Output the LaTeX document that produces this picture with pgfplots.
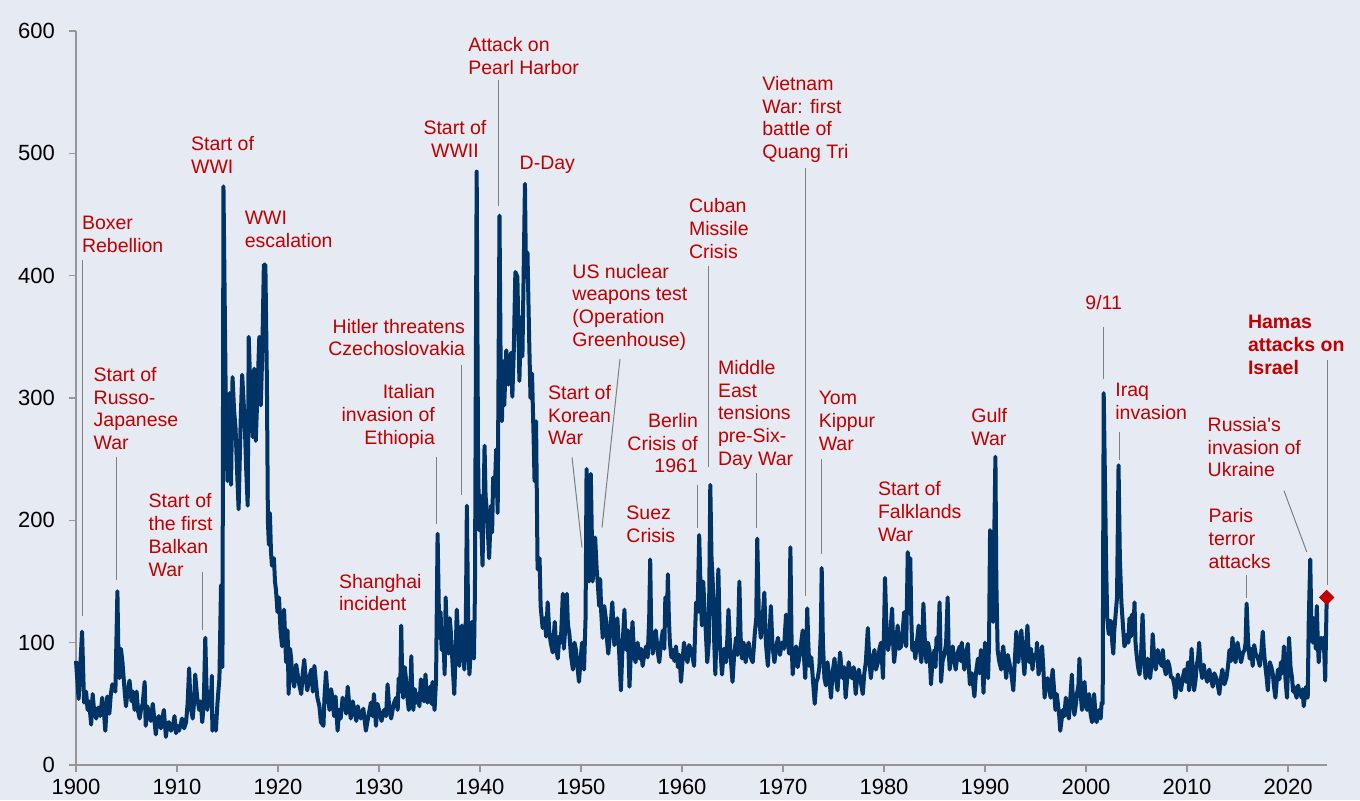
\documentclass[border=0pt]{standalone}
\usepackage{fontspec}
\setmainfont{Liberation Sans}[Ligatures=TeXOff]
\usepackage{pgfplots}
\pgfplotsset{compat=1.18}
\definecolor{bg}{RGB}{230,234,243}
\definecolor{navy}{RGB}{0,51,102}
\definecolor{ann}{RGB}{192,0,0}
\definecolor{axgray}{RGB}{150,150,150}
\newcommand\annfont{\fontsize{9.75}{11.35}\selectfont}
\tikzset{leader/.style={draw=gray, line width=0.5pt},
  annL/.style={anchor=north west, inner sep=0pt, align=left, text=ann, font=\annfont},
  annR/.style={anchor=north east, inner sep=0pt, align=right, text=ann, font=\annfont},
  annC/.style={anchor=north, inner sep=0pt, align=center, text=ann, font=\annfont}}
\begin{document}
\begin{tikzpicture}
\fill[bg] (-38pt,-17.5pt) rectangle (642pt,382.5pt);
\begin{axis}[
  at={(0pt,0pt)}, anchor=south west, scale only axis,
  width=625.5pt, height=367pt,
  xmin=1900, xmax=2023.86, ymin=0, ymax=600,
  axis x line*=bottom, axis y line*=left,
  axis line style={-, draw=axgray, line width=0.6pt},
  xtick={1900,1910,...,2020}, ytick={0,100,...,600},
  tick align=outside, major tick length=3.5pt,
  tick style={draw=axgray, line width=0.6pt},
  ticklabel style={font=\fontsize{11}{13}\selectfont, /pgf/number format/assume math mode=true},
  xticklabel style={/pgf/number format/1000 sep={}},
  yticklabel style={xshift=-3.5pt},
  clip=false,
]
\addplot[navy, line width=2pt, line join=round] coordinates {
(1900.0,85) (1900.26,54) (1900.6,109) (1900.8,51) (1901.0,60) (1901.15,45) (1901.3,52) (1901.5,33) (1901.65,58) (1901.8,44) (1902.0,38) (1902.2,47) (1902.4,40) (1902.6,55) (1902.75,45) (1902.9,28) (1903.1,56) (1903.3,42) (1903.45,58) (1903.6,66) (1903.9,60) (1904.1,142) (1904.2,90) (1904.3,71) (1904.45,95) (1904.6,84) (1904.8,62) (1904.95,48) (1905.1,60) (1905.3,69) (1905.5,52) (1905.65,60) (1905.8,45) (1906.0,60) (1906.15,44) (1906.3,38) (1906.45,46) (1906.6,50) (1906.8,68) (1906.9,32) (1907.05,48) (1907.2,44) (1907.4,36) (1907.6,50) (1907.75,38) (1907.9,25) (1908.05,36) (1908.2,40) (1908.4,30) (1908.55,38) (1908.7,45) (1908.9,23) (1909.05,34) (1909.2,35) (1909.4,28) (1909.6,32) (1909.75,40) (1909.9,26) (1910.05,32) (1910.2,28) (1910.35,33) (1910.5,38) (1910.7,30) (1910.9,35) (1911.05,50) (1911.2,79) (1911.35,48) (1911.55,38) (1911.7,52) (1911.8,74) (1912.0,55) (1912.2,45) (1912.35,52) (1912.5,35) (1912.65,50) (1912.8,104) (1912.9,70) (1913.0,45) (1913.2,60) (1913.35,48) (1913.45,73) (1913.5,28) (1913.7,40) (1913.85,28) (1914.0,50) (1914.2,71) (1914.36,147) (1914.5,80) (1914.6,473) (1914.85,281) (1915.0,232) (1915.2,304) (1915.35,229) (1915.5,317) (1915.65,290) (1915.8,275) (1915.95,240) (1916.1,209) (1916.3,280) (1916.45,319) (1916.7,281) (1916.85,242) (1917.0,212) (1917.1,350) (1917.3,297) (1917.5,268) (1917.65,324) (1917.8,265) (1917.95,301) (1918.15,350) (1918.3,294) (1918.45,340) (1918.6,409) (1918.75,409) (1918.9,314) (1919.0,199) (1919.1,180) (1919.2,206) (1919.3,175) (1919.4,163) (1919.6,169) (1919.7,150) (1919.8,143) (1919.95,125) (1920.1,137) (1920.25,110) (1920.4,97) (1920.5,115) (1920.6,127) (1920.8,84) (1920.95,110) (1921.05,58) (1921.2,95) (1921.3,87) (1921.45,70) (1921.6,64) (1921.8,82) (1921.95,74) (1922.1,66) (1922.3,58) (1922.45,75) (1922.6,86) (1922.75,70) (1922.9,61) (1923.1,72) (1923.3,78) (1923.45,60) (1923.6,81) (1923.75,68) (1923.9,55) (1924.1,48) (1924.25,35) (1924.5,32) (1924.6,55) (1924.75,76) (1924.9,58) (1925.1,45) (1925.25,62) (1925.4,55) (1925.55,40) (1925.7,56) (1925.9,28) (1926.05,45) (1926.2,38) (1926.4,55) (1926.6,51) (1926.75,42) (1926.9,64) (1927.05,50) (1927.2,38) (1927.4,52) (1927.55,45) (1927.75,36) (1927.9,48) (1928.05,42) (1928.2,38) (1928.45,46) (1928.7,28) (1928.95,40) (1929.2,51) (1929.35,40) (1929.5,58) (1929.7,32) (1929.85,50) (1930.0,45) (1930.25,36) (1930.5,45) (1930.7,40) (1930.85,66) (1931.0,48) (1931.2,38) (1931.45,50) (1931.7,55) (1931.85,45) (1931.95,71) (1932.1,60) (1932.2,114) (1932.3,70) (1932.4,55) (1932.55,80) (1932.7,68) (1932.85,52) (1932.95,45) (1933.1,60) (1933.2,89) (1933.3,55) (1933.4,45) (1933.55,62) (1933.7,51) (1933.85,58) (1934.0,48) (1934.15,70) (1934.3,64) (1934.45,52) (1934.6,74) (1934.7,60) (1934.8,51) (1934.95,58) (1935.05,64) (1935.2,50) (1935.3,68) (1935.4,55) (1935.5,45) (1935.65,70) (1935.8,189) (1935.97,104) (1936.1,125) (1936.2,94) (1936.35,110) (1936.5,74) (1936.6,137) (1936.75,100) (1936.9,91) (1937.0,120) (1937.1,110) (1937.3,80) (1937.45,58) (1937.6,95) (1937.7,127) (1937.85,100) (1937.95,81) (1938.1,100) (1938.2,114) (1938.35,95) (1938.45,78) (1938.6,120) (1938.7,212) (1938.85,100) (1938.95,74) (1939.1,95) (1939.2,117) (1939.3,100) (1939.4,87) (1939.5,143) (1939.67,485) (1939.8,260) (1939.9,192) (1940.05,220) (1940.25,163) (1940.45,261) (1940.55,220) (1940.7,206) (1940.9,169) (1941.0,190) (1941.1,212) (1941.2,190) (1941.3,235) (1941.45,220) (1941.6,258) (1941.75,206) (1941.93,449) (1942.05,320) (1942.17,281) (1942.3,330) (1942.4,294) (1942.6,339) (1942.8,311) (1943.07,337) (1943.2,301) (1943.35,340) (1943.5,403) (1943.7,399) (1943.9,314) (1944.05,366) (1944.2,334) (1944.45,475) (1944.55,400) (1944.7,419) (1944.88,343) (1945.0,300) (1945.15,320) (1945.3,270) (1945.4,232) (1945.55,281) (1945.7,160) (1945.9,169) (1946.0,130) (1946.2,112) (1946.4,120) (1946.55,105) (1946.7,133) (1946.85,110) (1947.0,100) (1947.2,92) (1947.4,117) (1947.55,95) (1947.7,87) (1947.85,105) (1948.0,100) (1948.2,140) (1948.3,95) (1948.4,107) (1948.6,140) (1948.7,115) (1948.85,107) (1949.0,90) (1949.2,78) (1949.35,100) (1949.5,94) (1949.65,80) (1949.8,68) (1949.95,85) (1950.1,100) (1950.3,78) (1950.45,120) (1950.55,242) (1950.65,180) (1950.8,150) (1950.97,238) (1951.15,150) (1951.3,170) (1951.4,186) (1951.55,160) (1951.65,150) (1951.8,130) (1951.9,152) (1952.0,125) (1952.15,104) (1952.3,130) (1952.5,117) (1952.6,100) (1952.7,91) (1952.9,110) (1953.1,133) (1953.3,98) (1953.5,104) (1953.6,120) (1953.75,97) (1953.95,61) (1954.1,95) (1954.3,127) (1954.4,100) (1954.5,94) (1954.65,110) (1954.8,64) (1954.95,95) (1955.1,117) (1955.25,90) (1955.4,84) (1955.6,100) (1955.8,87) (1955.95,95) (1956.1,81) (1956.3,92) (1956.45,97) (1956.6,88) (1956.75,120) (1956.85,168) (1956.95,110) (1957.1,91) (1957.25,100) (1957.4,110) (1957.6,92) (1957.75,84) (1957.9,98) (1958.1,110) (1958.25,95) (1958.35,137) (1958.5,115) (1958.6,156) (1958.7,120) (1958.8,100) (1958.95,88) (1959.1,94) (1959.25,85) (1959.4,97) (1959.6,80) (1959.75,90) (1959.9,68) (1960.05,85) (1960.2,100) (1960.35,90) (1960.55,84) (1960.7,98) (1960.9,94) (1961.05,88) (1961.2,81) (1961.3,110) (1961.4,133) (1961.55,125) (1961.7,188) (1961.85,140) (1961.97,114) (1962.1,150) (1962.2,133) (1962.35,110) (1962.5,84) (1962.65,100) (1962.8,229) (1962.92,170) (1963.04,150) (1963.15,110) (1963.3,74) (1963.45,120) (1963.6,160) (1963.75,100) (1963.96,74) (1964.15,95) (1964.36,84) (1964.5,105) (1964.6,127) (1964.8,90) (1965.0,68) (1965.15,88) (1965.35,104) (1965.5,90) (1965.68,150) (1965.8,105) (1965.94,87) (1966.1,100) (1966.3,84) (1966.45,95) (1966.6,100) (1966.8,88) (1967.0,84) (1967.1,95) (1967.2,107) (1967.35,120) (1967.45,185) (1967.6,125) (1967.8,104) (1967.95,115) (1968.15,141) (1968.3,100) (1968.5,81) (1968.65,105) (1968.8,130) (1968.95,98) (1969.15,84) (1969.3,95) (1969.5,104) (1969.7,90) (1969.9,100) (1970.1,95) (1970.3,123) (1970.45,105) (1970.6,91) (1970.73,178) (1970.85,100) (1970.96,74) (1971.1,90) (1971.3,97) (1971.45,80) (1971.6,87) (1971.8,100) (1971.95,110) (1972.1,85) (1972.2,71) (1972.3,95) (1972.4,128) (1972.5,100) (1972.6,81) (1972.8,88) (1972.95,71) (1973.14,50) (1973.3,68) (1973.44,71) (1973.6,80) (1973.75,110) (1973.83,161) (1973.95,100) (1974.1,71) (1974.25,65) (1974.4,84) (1974.6,70) (1974.75,55) (1974.9,75) (1975.1,87) (1975.25,70) (1975.4,61) (1975.55,80) (1975.65,92) (1975.8,78) (1975.9,71) (1976.05,80) (1976.2,55) (1976.35,70) (1976.5,84) (1976.65,75) (1976.8,71) (1977.0,80) (1977.2,58) (1977.35,72) (1977.5,78) (1977.7,68) (1977.9,58) (1978.05,75) (1978.2,84) (1978.4,112) (1978.55,85) (1978.7,71) (1978.9,88) (1979.05,94) (1979.2,78) (1979.4,84) (1979.55,95) (1979.7,100) (1979.9,71) (1980.0,110) (1980.1,153) (1980.25,110) (1980.4,94) (1980.6,105) (1980.8,128) (1980.9,100) (1981.0,84) (1981.2,100) (1981.35,114) (1981.5,95) (1981.7,97) (1981.85,110) (1982.0,125) (1982.1,105) (1982.2,97) (1982.35,174) (1982.45,140) (1982.6,169) (1982.7,120) (1982.8,94) (1982.95,100) (1983.1,87) (1983.25,100) (1983.43,114) (1983.55,95) (1983.7,84) (1983.8,105) (1983.9,132) (1984.05,100) (1984.2,84) (1984.35,100) (1984.5,94) (1984.65,66) (1984.8,85) (1985.0,94) (1985.1,80) (1985.2,104) (1985.35,95) (1985.5,133) (1985.65,68) (1985.8,85) (1986.0,91) (1986.15,100) (1986.3,137) (1986.4,95) (1986.5,78) (1986.65,90) (1986.8,97) (1986.95,85) (1987.1,78) (1987.3,92) (1987.5,97) (1987.6,85) (1987.7,100) (1987.8,90) (1987.95,78) (1988.1,90) (1988.3,99) (1988.4,80) (1988.5,66) (1988.7,75) (1988.95,56) (1989.1,75) (1989.3,87) (1989.45,75) (1989.6,94) (1989.75,80) (1989.85,59) (1990.0,100) (1990.15,85) (1990.3,71) (1990.4,100) (1990.5,192) (1990.65,140) (1990.8,117) (1990.92,190) (1991.03,252) (1991.12,150) (1991.25,94) (1991.4,85) (1991.6,78) (1991.7,90) (1991.8,97) (1991.95,85) (1992.1,71) (1992.25,90) (1992.4,84) (1992.6,75) (1992.8,61) (1992.95,85) (1993.1,109) (1993.2,90) (1993.3,84) (1993.45,100) (1993.6,110) (1993.75,90) (1993.9,74) (1994.05,95) (1994.2,114) (1994.3,95) (1994.4,84) (1994.55,95) (1994.7,78) (1994.85,90) (1995.05,87) (1995.15,100) (1995.3,74) (1995.5,85) (1995.65,97) (1995.8,75) (1995.9,55) (1996.05,68) (1996.2,71) (1996.35,62) (1996.5,55) (1996.6,70) (1996.7,78) (1996.85,60) (1996.97,45) (1997.1,58) (1997.2,51) (1997.35,40) (1997.45,28) (1997.6,38) (1997.7,45) (1997.85,40) (1998.0,55) (1998.15,45) (1998.3,38) (1998.45,55) (1998.6,74) (1998.7,52) (1998.85,41) (1999.0,50) (1999.1,58) (1999.25,65) (1999.35,87) (1999.5,55) (1999.6,45) (1999.75,55) (1999.85,68) (2000.0,50) (2000.1,45) (2000.2,52) (2000.3,58) (2000.45,42) (2000.6,35) (2000.7,48) (2000.8,58) (2000.95,40) (2001.05,35) (2001.2,42) (2001.3,45) (2001.45,38) (2001.55,51) (2001.65,50) (2001.75,304) (2001.88,230) (2002.0,160) (2002.1,120) (2002.25,107) (2002.35,118) (2002.5,117) (2002.6,100) (2002.7,91) (2002.8,110) (2002.9,120) (2003.07,137) (2003.22,245) (2003.35,170) (2003.5,133) (2003.65,115) (2003.8,97) (2003.95,100) (2004.1,107) (2004.2,100) (2004.3,120) (2004.45,105) (2004.55,123) (2004.7,110) (2004.8,133) (2004.9,100) (2005.0,91) (2005.15,80) (2005.3,74) (2005.45,90) (2005.6,123) (2005.75,85) (2005.9,71) (2006.0,80) (2006.1,87) (2006.25,78) (2006.35,71) (2006.5,85) (2006.6,107) (2006.75,88) (2006.9,78) (2007.0,85) (2007.1,94) (2007.3,85) (2007.5,81) (2007.6,94) (2007.75,80) (2007.9,74) (2008.1,85) (2008.25,81) (2008.4,72) (2008.6,71) (2008.75,65) (2008.85,55) (2009.0,68) (2009.1,74) (2009.25,66) (2009.4,61) (2009.6,72) (2009.75,78) (2009.9,68) (2010.1,84) (2010.2,61) (2010.35,75) (2010.45,95) (2010.6,72) (2010.7,61) (2010.85,70) (2010.95,81) (2011.1,88) (2011.2,100) (2011.35,80) (2011.5,71) (2011.65,82) (2011.8,74) (2012.0,68) (2012.2,78) (2012.4,70) (2012.55,64) (2012.7,75) (2012.9,71) (2013.05,65) (2013.2,58) (2013.35,70) (2013.5,78) (2013.7,66) (2013.9,71) (2014.05,80) (2014.2,94) (2014.35,85) (2014.5,104) (2014.65,90) (2014.8,84) (2014.9,92) (2015.0,100) (2015.2,90) (2015.35,84) (2015.55,92) (2015.7,94) (2015.8,100) (2015.9,132) (2016.05,100) (2016.2,87) (2016.35,95) (2016.5,81) (2016.65,98) (2016.8,91) (2017.0,88) (2017.2,81) (2017.35,92) (2017.5,109) (2017.6,95) (2017.75,81) (2017.9,70) (2018.0,61) (2018.1,75) (2018.2,84) (2018.35,80) (2018.5,74) (2018.6,65) (2018.75,55) (2018.9,70) (2019.0,78) (2019.15,70) (2019.3,84) (2019.45,75) (2019.6,97) (2019.75,70) (2019.9,55) (2020.0,80) (2020.1,104) (2020.25,80) (2020.4,71) (2020.5,60) (2020.6,64) (2020.75,58) (2020.85,55) (2021.0,65) (2021.1,61) (2021.25,58) (2021.35,55) (2021.45,62) (2021.55,48) (2021.7,58) (2021.8,64) (2021.95,55) (2022.05,117) (2022.2,168) (2022.3,120) (2022.45,100) (2022.55,120) (2022.65,107) (2022.75,95) (2022.85,130) (2022.95,100) (2023.04,84) (2023.15,100) (2023.27,104) (2023.4,95) (2023.5,104) (2023.6,90) (2023.68,69) (2023.83,137)
};
\addplot[only marks, mark=square*, mark size=2.5pt, mark options={rotate=45, fill=ann, draw=ann}] coordinates {(2023.83,137)};

% leader lines
\draw[leader] (axis cs:1900.69,412.8) -- (axis cs:1900.69,121.8);
\draw[leader] (axis cs:1904.03,251.8) -- (axis cs:1904.03,151.2);
\draw[leader] (axis cs:1912.48,158.0) -- (axis cs:1912.48,110.4);
\draw[leader] (axis cs:1938.19,327.1) -- (axis cs:1938.19,220.4);
\draw[leader] (axis cs:1935.71,251.5) -- (axis cs:1935.71,197.4);
\draw[leader] (axis cs:1941.81,560) -- (axis cs:1941.81,457);
\draw[leader] (axis cs:1953.86,332.0) -- (axis cs:1952.08,194.1);
\draw[leader] (axis cs:1949.11,251.5) -- (axis cs:1950.10,177.7);
\draw[leader] (axis cs:1961.51,229.1) -- (axis cs:1961.51,194.1);
\draw[leader] (axis cs:1962.64,407.5) -- (axis cs:1962.64,243.4);
\draw[leader] (axis cs:1967.39,238.5) -- (axis cs:1967.39,194.1);
\draw[leader] (axis cs:1972.21,488) -- (axis cs:1972.21,138.3);
\draw[leader] (axis cs:1973.83,249.9) -- (axis cs:1973.83,172.7);
\draw[leader] (axis cs:2001.71,358.1) -- (axis cs:2001.71,315.5);
\draw[leader] (axis cs:2003.30,272.5) -- (axis cs:2003.30,249.3);
\draw[leader] (axis cs:2023.90,331.1) -- (axis cs:2023.90,147.1);
\draw[leader] (axis cs:2019.60,224.2) -- (axis cs:2021.85,174.3);
\draw[leader] (axis cs:2015.90,155.3) -- (axis cs:2015.90,136.2);

% annotations
\node[annL] at (axis cs:1900.56,448.8) {Boxer\\Rebellion};
\node[annL] at (axis cs:1901.71,325.4) {Start of\\Russo-\\Japanese\\War};
\node[annL] at (axis cs:1907.16,222.0) {Start of\\the first\\Balkan\\War};
\node[annL] at (axis cs:1911.36,514.2) {Start of\\WWI};
\node[annL] at (axis cs:1916.67,453.1) {WWI\\escalation};
\node[annR] at (axis cs:1938.55,364.8) {Hitler threatens\\Czechoslovakia};
\node[annR] at (axis cs:1935.57,311.3) {Italian\\invasion of\\Ethiopia};
\node[annL] at (axis cs:1926.01,156.4) {Shanghai\\incident};
\node[annC] at (axis cs:1937.52,527.1) {Start of\\WWII};
\node[annL] at (axis cs:1938.81,595.1) {Attack on\\Pearl Harbor};
\node[annL] at (axis cs:1943.89,498.4) {D-Day};
\node[annL] at (axis cs:1949.11,409.8) {US nuclear\\weapons test\\(Operation\\Greenhouse)};
\node[annL] at (axis cs:1946.70,310.6) {Start of\\Korean\\War};
\node[annR] at (axis cs:1961.61,287.7) {Berlin\\Crisis of\\1961};
\node[annL] at (axis cs:1954.46,212.1) {Suez\\Crisis};
\node[annL] at (axis cs:1960.66,463.3) {Cuban\\Missile\\Crisis};
\node[annL] at (axis cs:1963.53,331.1) {Middle\\East\\tensions\\pre-Six-\\Day War};
\node[annL] at (axis cs:1967.92,563.3) {Vietnam\\War: first\\battle of\\Quang Tri};
\node[annL] at (axis cs:1973.50,305.7) {Yom\\Kippur\\War};
\node[annL] at (axis cs:1979.37,231.8) {Start of\\Falklands\\War};
\node[annL] at (axis cs:1988.61,291.7) {Gulf\\War};
\node[annL] at (axis cs:1999.90,384.3) {9/11};
\node[annL] at (axis cs:2002.87,312.5) {Iraq\\invasion};
\node[annL, font=\annfont\bfseries] at (axis cs:2016.0,367.9) {Hamas\\attacks on\\Israel};
\node[annL] at (axis cs:2012.01,284.6) {Russia's\\invasion of\\Ukraine};
\node[annL] at (axis cs:2012.11,209.8) {Paris\\terror\\attacks};
\end{axis}
\pgfresetboundingbox
\useasboundingbox (-38pt,-17.5pt) rectangle (642pt,382.5pt);
\end{tikzpicture}
\end{document}
